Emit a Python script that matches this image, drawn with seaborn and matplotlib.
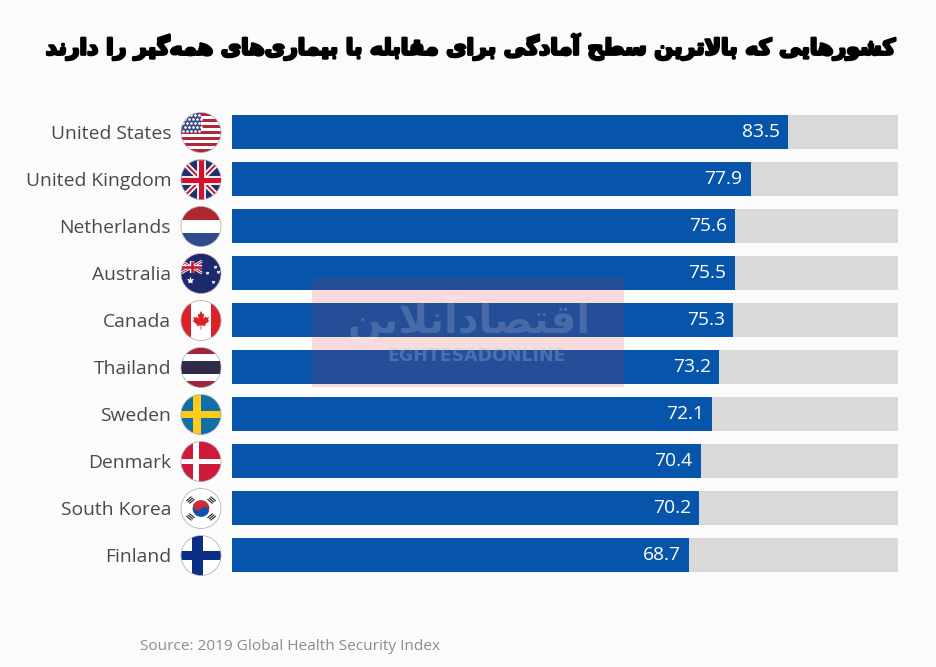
import matplotlib
matplotlib.use("Agg")
import matplotlib.pyplot as plt
import pandas as pd
import seaborn as sns
from matplotlib.patches import Circle, Polygon, Rectangle, Wedge
from matplotlib.patheffects import withStroke
from matplotlib.transforms import Affine2D

# Data
countries = ['United States', 'United Kingdom', 'Netherlands', 'Australia', 'Canada',
             'Thailand', 'Sweden', 'Denmark', 'South Korea', 'Finland']
scores = [83.5, 77.9, 75.6, 75.5, 75.3, 73.2, 72.1, 70.4, 70.2, 68.7]
max_score = 100
title_fa = 'کشورهایی که بالاترین سطح آمادگی برای مقابله با بیماری‌های همه‌گیر را دارند'
logo_fa = 'اقتصادآنلاین'
logo_en = 'EGHTESADONLINE'
source = 'Source: 2019 Global Health Security Index'

BG = '#fbfbfb'
BLUE = '#0655ab'
GRAY = '#d9d9d9'
W, H = 936, 667

# matplotlib does not shape Arabic script, so map letters to presentation forms by hand
# letter: isolated, final, initial, medial
FORMS = {
    'ا': (0xFE8D, 0xFE8E), 'آ': (0xFE81, 0xFE82), 'د': (0xFEA9, 0xFEAA),
    'ر': (0xFEAD, 0xFEAE), 'و': (0xFEED, 0xFEEE),
    'ب': (0xFE8F, 0xFE90, 0xFE91, 0xFE92), 'ت': (0xFE95, 0xFE96, 0xFE97, 0xFE98),
    'ح': (0xFEA1, 0xFEA2, 0xFEA3, 0xFEA4), 'س': (0xFEB1, 0xFEB2, 0xFEB3, 0xFEB4),
    'ش': (0xFEB5, 0xFEB6, 0xFEB7, 0xFEB8), 'ص': (0xFEB9, 0xFEBA, 0xFEBB, 0xFEBC),
    'ط': (0xFEC1, 0xFEC2, 0xFEC3, 0xFEC4), 'ق': (0xFED5, 0xFED6, 0xFED7, 0xFED8),
    'ک': (0xFB8E, 0xFB8F, 0xFB90, 0xFB91), 'گ': (0xFB92, 0xFB93, 0xFB94, 0xFB95),
    'ل': (0xFEDD, 0xFEDE, 0xFEDF, 0xFEE0), 'م': (0xFEE1, 0xFEE2, 0xFEE3, 0xFEE4),
    'ن': (0xFEE5, 0xFEE6, 0xFEE7, 0xFEE8), 'ه': (0xFEE9, 0xFEEA, 0xFEEB, 0xFEEC),
    'ی': (0xFBFC, 0xFBFD, 0xFBFE, 0xFBFF),
}


def shape(text):
    out = []
    i = 0
    prev_joins = False
    while i < len(text):
        ch = text[i]
        if ch not in FORMS:
            if ch != '\u200c':
                out.append(ch)
            prev_joins = False
            i += 1
            continue
        # lam-alef ligature
        if ch == 'ل' and i + 1 < len(text) and text[i + 1] == 'ا':
            out.append(chr(0xFEFC if prev_joins else 0xFEFB))
            prev_joins = False
            i += 2
            continue
        forms = FORMS[ch]
        next_ok = i + 1 < len(text) and text[i + 1] in FORMS
        joins_next = len(forms) == 4 and next_ok
        if prev_joins and joins_next:
            out.append(chr(forms[3]))
        elif prev_joins:
            out.append(chr(forms[1]))
        elif joins_next:
            out.append(chr(forms[2]))
        else:
            out.append(chr(forms[0]))
        prev_joins = joins_next
        i += 1
    return ''.join(reversed(out))


sns.set_theme(style='white')
plt.rcParams['font.family'] = ['Open Sans', 'DejaVu Sans']

df = pd.DataFrame({'country': countries, 'score': scores, 'full': max_score})

fig = plt.figure(figsize=(W / 100, H / 100), dpi=100, facecolor=BG)
ax = fig.add_axes([231.5 / W, 1 - 578.5 / H, (898 - 231.5) / W, 470 / H], facecolor='none')

sns.barplot(data=df, y='country', x='full', color=GRAY, width=0.73, saturation=1, linewidth=0, ax=ax)
sns.barplot(data=df, y='country', x='score', color=BLUE, width=0.73, saturation=1, linewidth=0, ax=ax)
ax.set_xlim(0, max_score)
ax.set_xlabel('')
ax.set_ylabel('')
ax.set_xticks([])
sns.despine(ax=ax, left=True, bottom=True)
ax.tick_params(axis='y', length=0, pad=43.5, labelsize=13.9, labelcolor='#4a4a4a')

for i, v in enumerate(scores):
    ax.annotate(f'{v:.1f}', (v, i), xytext=(-6, 0), textcoords='offset points',
                ha='right', va='center', color='white', fontsize=13.9)

# overlay in image pixels for flags, title, source, watermark
over = fig.add_axes([0, 0, 1, 1], facecolor='none')
over.set_xlim(0, W)
over.set_ylim(H, 0)
over.axis('off')
over.set_autoscale_on(False)


def draw_flag(name, cx, cy, r=20):
    t = Affine2D().scale(r, -r) + Affine2D().translate(cx, cy) + over.transData
    clip = Circle((0, 0), 1, transform=t)

    def add(p):
        p.set_transform(t)
        over.add_patch(p)
        p.set_clip_path(clip)

    def box(x0, y0, x1, y1, c):
        add(Rectangle((x0, y0), x1 - x0, y1 - y0, facecolor=c, edgecolor='none', lw=0))

    def line(xs, ys, w, c):
        ln, = over.plot(xs, ys, color=c, lw=w * r * 0.72, transform=t, solid_capstyle='butt')
        ln.set_clip_path(clip)

    def stars(xs, ys, size, c='white', marker='*'):
        ln, = over.plot(xs, ys, ls='', marker=marker, ms=size, mfc=c, mec='none', transform=t)
        ln.set_clip_path(clip)

    def union(x0, y0, x1, y1, k):
        # diagonals and cross scaled to the box
        xm, ym = (x0 + x1) / 2, (y0 + y1) / 2
        line([x0, x1], [y0, y1], 0.28 * k, 'white')
        line([x0, x1], [y1, y0], 0.28 * k, 'white')
        line([x0, x1], [y0, y1], 0.1 * k, '#cf142b')
        line([x0, x1], [y1, y0], 0.1 * k, '#cf142b')
        line([x0, x1], [ym, ym], 0.44 * k, 'white')
        line([xm, xm], [y0, y1], 0.44 * k, 'white')
        line([x0, x1], [ym, ym], 0.26 * k, '#cf142b')
        line([xm, xm], [y0, y1], 0.26 * k, '#cf142b')

    if name == 'United States':
        box(-1, -1, 1, 1, 'white')
        for k in range(7):
            y0 = 1 - k * 2 / 6.5
            box(-1, y0 - 2 / 13, 1, y0, '#b5263b')
        box(-1, 0, 0.0, 1, '#3f4a80')
        xs, ys = [], []
        for row in range(5):
            for col in range(5):
                xs.append(-0.88 + col * 0.2 + (row % 2) * 0.1)
                ys.append(0.88 - row * 0.2)
        stars(xs, ys, 1.9, marker='o')
    elif name == 'United Kingdom':
        box(-1, -1, 1, 1, '#23306f')
        union(-1, -1, 1, 1, 1)
    elif name == 'Netherlands':
        box(-1, 1 / 3, 1, 1, '#ae2630')
        box(-1, -1 / 3, 1, 1 / 3, 'white')
        box(-1, -1, 1, -1 / 3, '#2f4b8f')
    elif name == 'Australia':
        box(-1, -1, 1, 1, '#1c2a6d')
        union(-1, 0.02, 0.05, 0.62, 0.5)
        stars([-0.55], [-0.32], 6)
        stars([0.32, 0.68, 0.58, 0.85], [0.02, 0.32, -0.42, 0.1], 3)
    elif name == 'Canada':
        box(-1, -1, 1, 1, 'white')
        box(-1, -1, -0.5, 1, '#da2127')
        box(0.5, -1, 1, 1, '#da2127')
        half = [(0, 0.48), (0.09, 0.30), (0.16, 0.34), (0.12, 0.08), (0.22, 0.2), (0.26, 0.14),
                (0.40, 0.17), (0.35, 0.02), (0.42, -0.02), (0.2, -0.2), (0.23, -0.28),
                (0.02, -0.24), (0.02, -0.46)]
        leaf = half + [(-x, y) for x, y in reversed(half[1:])]
        add(Polygon(leaf, closed=True, facecolor='#da2127', edgecolor='none'))
    elif name == 'Thailand':
        box(-1, -1, 1, 1, 'white')
        box(-1, 2 / 3, 1, 1, '#a5243d')
        box(-1, -1, 1, -2 / 3, '#a5243d')
        box(-1, -1 / 3, 1, 1 / 3, '#2d2a4a')
    elif name == 'Sweden':
        box(-1, -1, 1, 1, '#106ea8')
        box(-1, -0.18, 1, 0.18, '#fdcc1a')
        box(-0.38, -1, -0.02, 1, '#fdcc1a')
    elif name == 'Denmark':
        box(-1, -1, 1, 1, '#cf1a3c')
        box(-1, -0.14, 1, 0.14, 'white')
        box(-0.4, -1, -0.1, 1, 'white')
    elif name == 'South Korea':
        box(-1, -1, 1, 1, 'white')
        add(Wedge((0, 0), 0.42, -33.7, 146.3, facecolor='#cd2e3a', edgecolor='none'))
        add(Wedge((0, 0), 0.42, 146.3, 326.3, facecolor='#0f52a8', edgecolor='none'))
        add(Circle((-0.175, 0.117), 0.21, facecolor='#cd2e3a', edgecolor='none'))
        add(Circle((0.175, -0.117), 0.21, facecolor='#0f52a8', edgecolor='none'))
        for sx, sy in [(1, 1), (-1, 1), (1, -1), (-1, -1)]:
            for d in [0.58, 0.68, 0.78]:
                px, py = d * sx * 0.78, d * sy * 0.62
                line([px - sy * 0.13, px + sy * 0.13], [py + sx * 0.11, py - sx * 0.11], 0.055, '#222222')
    elif name == 'Finland':
        box(-1, -1, 1, 1, 'white')
        box(-1, -0.24, 1, 0.24, '#0b2f84')
        box(-0.43, -1, 0.08, 1, '#0b2f84')

    # thin grey rim
    over.add_patch(Circle((0, 0), 1, transform=t, facecolor='none', edgecolor='#a8a8a8', lw=0.5))


for i, name in enumerate(countries):
    draw_flag(name, 201, 132.5 + 47 * i)

over.text(472, 47, shape(title_fa), ha='center', va='center', color='black', fontsize=15.9,
          family='DejaVu Sans', fontweight='bold',
          path_effects=[withStroke(linewidth=1.8, foreground='black')])
over.text(140, 646, source, ha='left', va='center', color='#8c8c8c', fontsize=11.1)

# watermark on top of the bars
over.add_patch(Rectangle((312, 278), 312, 109, facecolor='#e8262a', edgecolor='none', alpha=0.14))
over.text(469, 319, shape(logo_fa), ha='center', va='center', color='white', alpha=0.16,
          fontsize=29, family='DejaVu Sans', fontweight='bold')
over.text(477, 356, logo_en, ha='center', va='center', color='#9cc4ee', alpha=0.3,
          fontsize=12.5, family='DejaVu Sans', fontweight='bold')

fig.savefig('out.png', dpi=100, facecolor=BG)
